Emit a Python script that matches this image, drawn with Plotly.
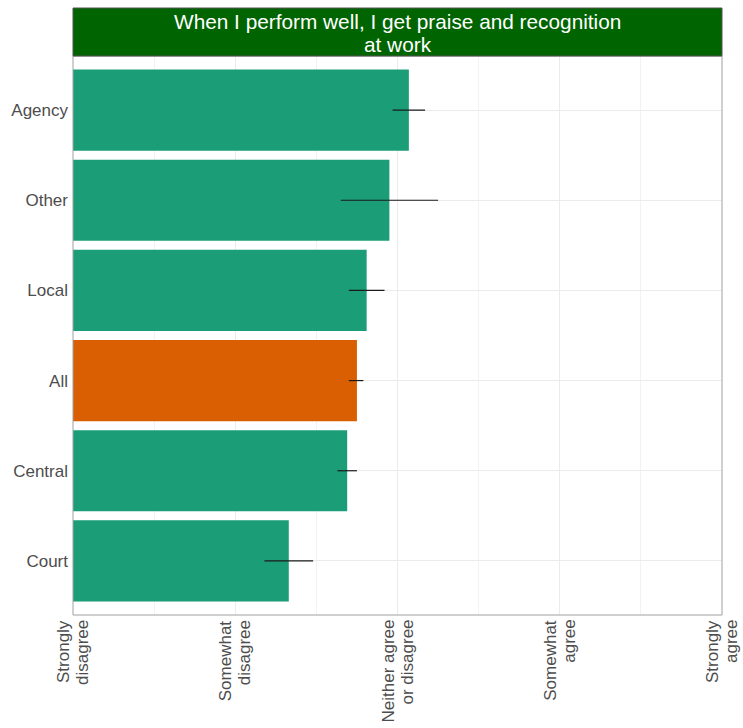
import plotly.graph_objects as go

categories = ["Court", "Central", "All", "Local", "Other", "Agency"]
means = [2.33, 2.69, 2.75, 2.81, 2.95, 3.07]
ci_low = [2.18, 2.63, 2.70, 2.70, 2.65, 2.97]
ci_high = [2.48, 2.75, 2.79, 2.92, 3.25, 3.17]
highlight = "All"
tick_vals = [1, 2, 3, 4, 5]
tick_text = ["Strongly<br>disagree", "Somewhat<br>disagree", "Neither agree<br>or disagree",
             "Somewhat<br>agree", "Strongly<br>agree"]
title_text = "When I perform well, I get praise and recognition<br>at work"

colors = ["#D95F02" if c == highlight else "#1B9E77" for c in categories]
err_plus = [h - m for h, m in zip(ci_high, means)]
err_minus = [m - l for m, l in zip(means, ci_low)]

FONT = "Liberation Sans, Arial, sans-serif"
W, H = 743, 728
ml, mr, mt, mb = 73, 21, 56, 113
ph = H - mt - mb
strip_h = 48

fig = go.Figure()
fig.add_trace(go.Bar(
    y=categories, x=means, orientation="h", base=0,
    marker=dict(color=colors, line=dict(width=0)),
    width=0.9,
    error_x=dict(type="data", symmetric=False, array=err_plus, arrayminus=err_minus,
                 width=0, thickness=1.2, color="#1a1a1a"),
    showlegend=False,
))

annotations = []
line_gap = 19
for v, t in zip(tick_vals, tick_text):
    lines = t.split("<br>")
    n = len(lines)
    for i, ln in enumerate(lines):
        annotations.append(dict(
            text=ln, xref="x", yref="paper", x=v, y=0, xanchor="center", yanchor="top",
            xshift=(i - (n - 1) / 2) * line_gap, yshift=-3, textangle=-90, showarrow=False,
            font=dict(size=17, color="#4D4D4D", family=FONT)))

title_lines = title_text.split("<br>")
title_centers_px = [21.5, 45]
for ln, py in zip(title_lines, title_centers_px):
    annotations.append(dict(
        text=ln, xref="paper", yref="paper", x=0.5, y=1 + (mt - py) / ph,
        xanchor="center", yanchor="middle", showarrow=False,
        font=dict(size=20.8, color="white", family=FONT)))

fig.update_layout(
    width=W, height=H,
    margin=dict(l=ml, r=mr, t=mt, b=mb, pad=0),
    plot_bgcolor="white", paper_bgcolor="white",
    font=dict(family=FONT, size=17, color="#4D4D4D"),
    xaxis=dict(range=[1, 5], tickvals=tick_vals, showticklabels=False, automargin=False,
               showgrid=True, gridcolor="#EBEBEB", gridwidth=1, zeroline=False, ticks="",
               minor=dict(tickvals=[1.5, 2.5, 3.5, 4.5], showgrid=True, gridcolor="#F2F2F2", gridwidth=1)),
    yaxis=dict(categoryorder="array", categoryarray=categories, range=[-0.6, 5.6], automargin=False,
               showgrid=True, gridcolor="#EBEBEB", gridwidth=1, ticks="", ticklabelstandoff=4,
               tickfont=dict(size=17, color="#4D4D4D", family=FONT)),
    shapes=[
        dict(type="rect", xref="paper", yref="paper", x0=0, x1=1, y0=0, y1=1,
             line=dict(color="#A0A0A0", width=1), fillcolor="rgba(0,0,0,0)", layer="above"),
        dict(type="rect", xref="paper", yref="paper", x0=0, x1=1, y0=1, y1=1 + strip_h / ph,
             line=dict(color="#555555", width=1), fillcolor="#006400", layer="above"),
    ],
    annotations=annotations,
)

fig.write_html("out.html", config={"displayModeBar": False},
               post_script="document.body.style.margin='0';document.body.style.overflow='hidden';")
